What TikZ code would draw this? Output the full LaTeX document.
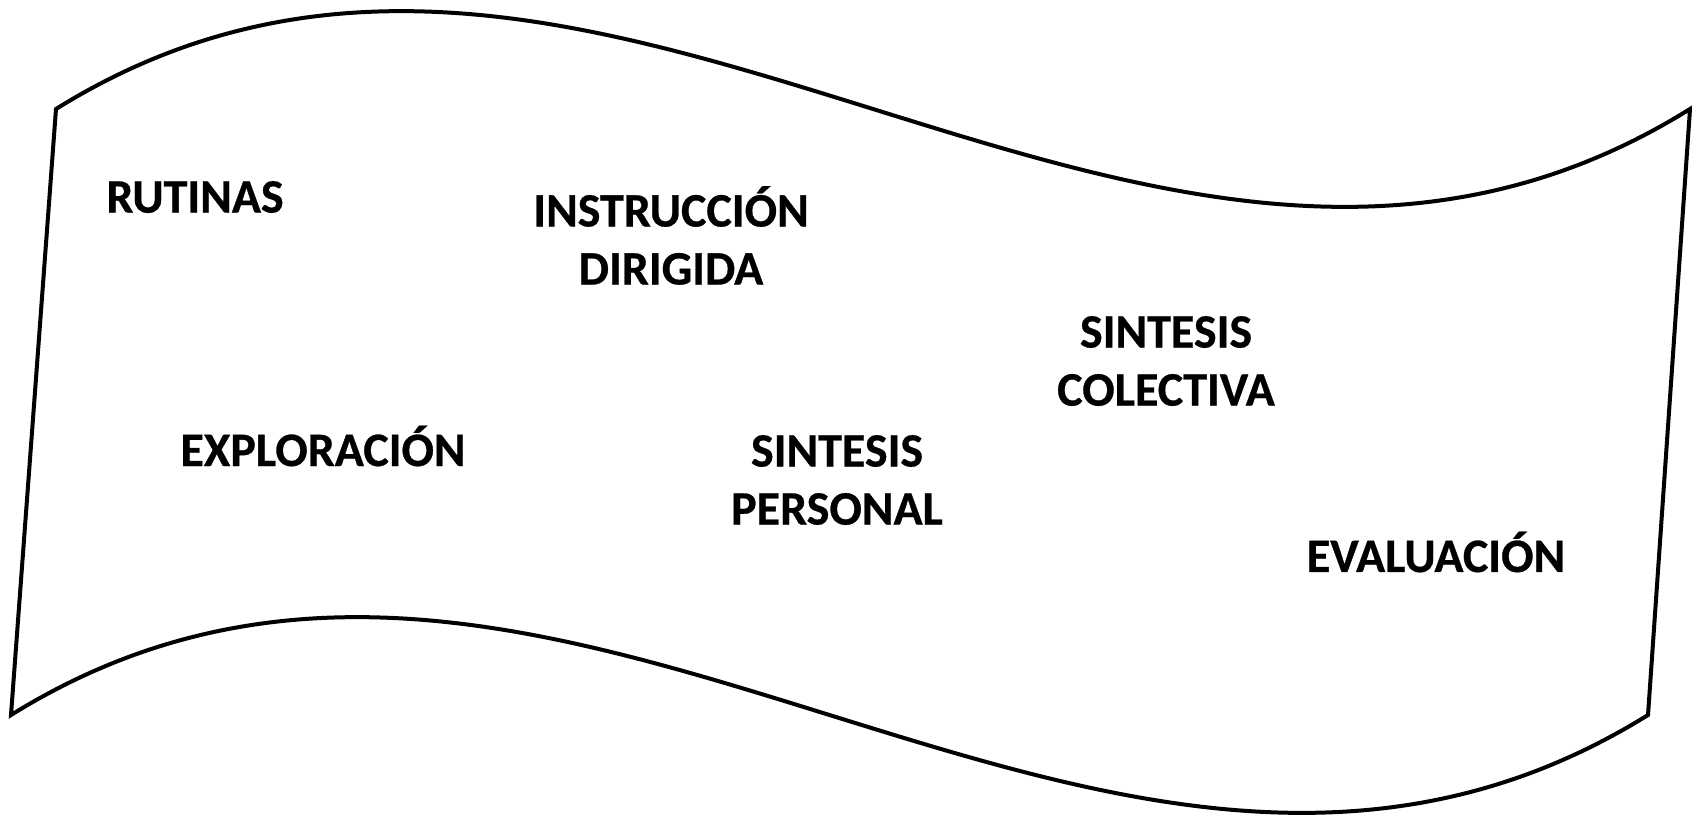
\documentclass[tikz,border=0pt]{standalone}
\usepackage{fontspec}
\setmainfont{Carlito}[BoldFeatures={FakeBold=0.6}]
\begin{document}
\begin{tikzpicture}[x=1pt,y=-1pt,
  lbl/.style={font=\bfseries\fontsize{48}{58}\selectfont, align=center, inner sep=0pt, anchor=center},
  wave/.style={draw=black, line width=4pt, line join=miter}]
\useasboundingbox (0,0) rectangle (1692,815);
\coordinate (TL) at (56,109);
\coordinate (TR) at (1690,109);
\coordinate (BR) at (1648,715);
\coordinate (BL) at (11,715);
\draw[wave] (TL) .. controls (600.7,-230) and (1145.3,448) .. (TR)
  -- (BR) .. controls (1102,1054) and (557,376) .. (BL) -- cycle;
\node[lbl] (rut) at (195,197) {RUTINAS};
\node[lbl] (ins) at (671,235.5) {INSTRUCCIÓN\\DIRIGIDA};
\node[lbl] (sco) at (1166,361) {SINTESIS\\COLECTIVA};
\node[lbl] (exp) at (323,446) {EXPLORACIÓN};
\node[lbl] (spe) at (837,480) {SINTESIS\\PERSONAL};
\node[lbl] (eva) at (1436,552) {EVALUACIÓN};
\end{tikzpicture}
\end{document}
